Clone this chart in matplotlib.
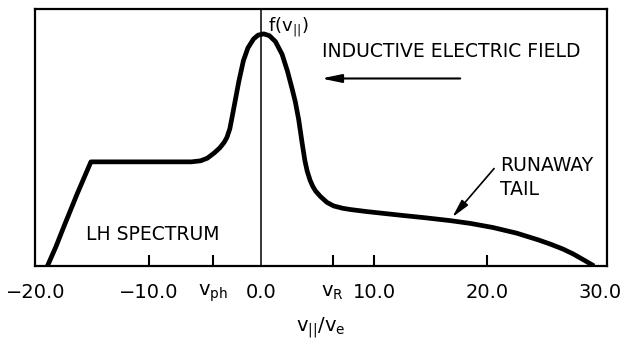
import matplotlib
matplotlib.use("Agg")
import matplotlib.pyplot as plt

plt.rcParams['font.family'] = ['DejaVu Sans']

# distribution function f(v_par)
v = [-18.95, -18.2, -17.5, -16.3, -15.1, -12.0, -9.0, -6.2,
     -5.4, -4.8, -4.2, -3.7, -3.3, -3.05, -2.8, -2.6, -2.3, -2.0, -1.6,
     -1.2, -0.7, -0.3, 0.2, 0.7, 1.24, 1.83, 2.3, 2.72, 3.0,
     3.3, 3.6, 3.85, 4.05, 4.3, 4.55, 4.8, 5.2, 5.8, 6.4, 7.2, 7.9,
     9.35, 12.3, 14.5, 16.7, 18.5, 20.5, 22.6, 24.5, 25.6, 26.7,
     27.6, 28.6, 29.45]
f = [0.0, 0.075, 0.153, 0.283, 0.406, 0.406, 0.406, 0.406,
     0.41, 0.42, 0.44, 0.46, 0.482, 0.502, 0.535, 0.58, 0.65, 0.72, 0.80,
     0.85, 0.885, 0.90, 0.905, 0.898, 0.875, 0.825, 0.76, 0.69, 0.64,
     0.57, 0.48, 0.41, 0.37, 0.335, 0.31, 0.292, 0.272, 0.248, 0.234, 0.225, 0.22,
     0.212, 0.198, 0.188, 0.177, 0.166, 0.15, 0.128, 0.102, 0.085, 0.066,
     0.047, 0.022, 0.0]

tick_pos = [-20, -10, -4.25, 0, 6.3, 10, 20, 30]
tick_lab = ['\u221220.0', '\u221210.0', r'$\mathregular{v_{ph}}$', '0.0',
            r'$\mathregular{v_R}$', '10.0', '20.0', '30.0']

fig = plt.figure(figsize=(6.24, 3.45), dpi=100)
ax = fig.add_axes([0.0561, 0.229, 0.9167, 0.7435])

ax.plot(v, f, color='black', lw=3.4, solid_capstyle='butt', solid_joinstyle='round')
ax.axvline(0, color='black', lw=1.1)

ax.set_xlim(-20.05, 30.6)
ax.set_ylim(0, 1)
ax.set_yticks([])
ax.set_xticks(tick_pos)
ax.set_xticklabels(tick_lab, fontsize=14)
ax.tick_params(axis='x', direction='in', length=8, width=1.5, pad=12)
for i in (0, 3, 7):
    ax.xaxis.get_major_ticks()[i].tick1line.set_visible(False)
for s in ax.spines.values():
    s.set_linewidth(1.6)

ax.set_xlabel(r'$\mathregular{v_{||}/v_e}$', fontsize=14, labelpad=8)

ax.text(0.55, 0.975, r'$\mathregular{f(v_{||})}$', fontsize=13, ha='left', va='top')
ax.text(5.4, 0.838, 'INDUCTIVE ELECTRIC FIELD', fontsize=13.5, ha='left', va='center')
ax.annotate('', xy=(5.3, 0.731), xytext=(17.6, 0.731),
            arrowprops=dict(arrowstyle='-|>,head_length=1.2,head_width=0.25',
                            color='black', lw=1.5, shrinkA=0, shrinkB=0))
ax.text(21.1, 0.39, 'RUNAWAY', fontsize=13.5, ha='left', va='center')
ax.text(21.1, 0.30, 'TAIL', fontsize=13.5, ha='left', va='center')
ax.annotate('', xy=(16.9, 0.19), xytext=(20.6, 0.38),
            arrowprops=dict(arrowstyle='-|>,head_length=1.1,head_width=0.25',
                            color='black', lw=1.2, shrinkA=0, shrinkB=0))
ax.text(-15.5, 0.121, 'LH SPECTRUM', fontsize=13.5, ha='left', va='center')

fig.savefig('out.png', dpi=100)
